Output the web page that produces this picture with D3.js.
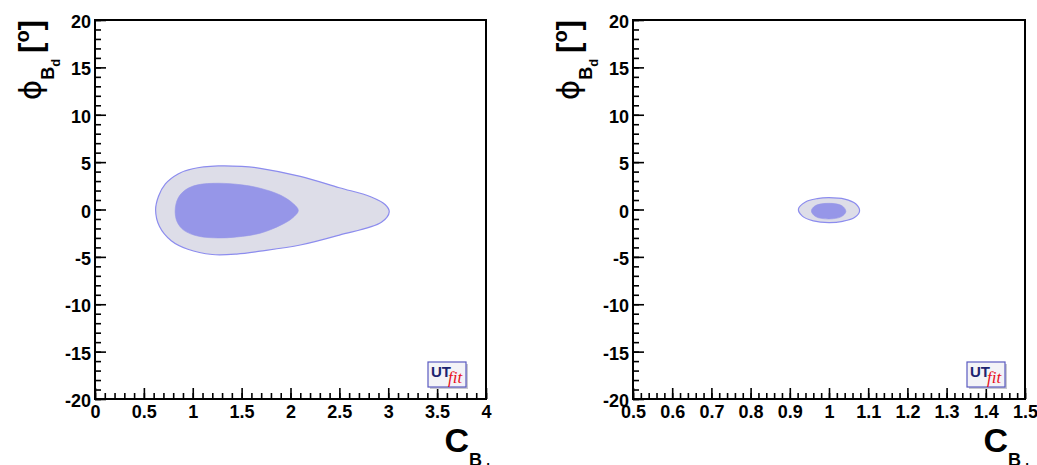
<!DOCTYPE html>
<html>
<head>
<meta charset="utf-8">
<script src="https://cdn.jsdelivr.net/npm/d3@7"></script>
<style>
	body { margin: 0; background: #fff; }
	svg { display: block; }
	.tick text { font-family: "Liberation Sans", Arial, sans-serif; font-weight: bold; font-size: 18px; fill: #000; }
</style>
</head>
<body>
<svg id="chart" width="1037" height="465"></svg>
<script>
// Contours (C_Bd, phi_Bd)
const leftOuter = [
	[0.62, -0.05], [0.65, 1.4], [0.72, 2.7], [0.85, 3.75], [1.0, 4.3], [1.26, 4.6], [1.5, 4.55],
	[1.69, 4.35], [2.1, 3.5], [2.5, 2.3], [2.82, 1.35], [2.97, 0.5], [3.01, -0.25], [2.93, -1.35],
	[2.5, -2.7], [2.1, -3.75], [1.69, -4.4], [1.45, -4.7], [1.2, -4.75], [0.95, -4.2], [0.78, -3.3],
	[0.66, -1.8],
];
const leftInner = [
	[0.82, -0.1], [0.85, 1.2], [0.93, 2.1], [1.05, 2.6], [1.26, 2.77], [1.5, 2.6], [1.69, 2.24],
	[1.9, 1.5], [2.03, 0.6], [2.08, -0.1], [2.02, -0.9], [1.9, -1.65], [1.69, -2.5], [1.45, -2.9],
	[1.26, -3.0], [1.05, -2.8], [0.91, -2.2], [0.84, -1.3],
];
const rightOuter = [
	[0.922, 0.05], [0.94, 0.8], [0.97, 1.15], [1.0, 1.25], [1.04, 1.1], [1.068, 0.6], [1.078, -0.15],
	[1.065, -0.85], [1.035, -1.25], [1.0, -1.39], [0.96, -1.2], [0.932, -0.7],
];
const rightInner = [
	[0.955, -0.15], [0.965, 0.4], [0.999, 0.65], [1.033, 0.4], [1.043, -0.2], [1.032, -0.75],
	[0.999, -1.0], [0.966, -0.75],
];

// Tick labels
const leftXTicks = ['0', '0.5', '1', '1.5', '2', '2.5', '3', '3.5', '4'];
const rightXTicks = ['0.5', '0.6', '0.7', '0.8', '0.9', '1', '1.1', '1.2', '1.3', '1.4', '1.5'];
const yTicks = ['-20', '-15', '-10', '-5', '0', '5', '10', '15', '20'];

const svg = d3.select('#chart');

function drawPanel(opts) {
	const { left, right, top, bottom } = opts;
	const g = svg.append('g');
	const xTickVals = opts.xTicks.map(Number);
	const yTickVals = yTicks.map(Number);

	const x = d3.scaleLinear().domain(d3.extent(xTickVals)).range([left, right]);
	const y = d3.scaleLinear().domain(d3.extent(yTickVals)).range([bottom, top]);

	// contours
	const line = d3.line()
		.x((d) => x(d[0]))
		.y((d) => y(d[1]))
		.curve(d3.curveCatmullRomClosed.alpha(0.5));

	g.append('path').attr('d', line(opts.outer))
		.attr('fill', '#dddde8').attr('stroke', '#8c8cee').attr('stroke-width', 1.2);
	g.append('path').attr('d', line(opts.inner))
		.attr('fill', '#9696e8').attr('stroke', '#9696e8').attr('stroke-width', 0.6);

	// minor ticks
	const xMinor = d3.range(x.domain()[0], x.domain()[1] + 1e-9, opts.xMinorStep);
	const yMinor = d3.range(-20, 20.001, 1);

	g.append('g').attr('transform', `translate(0,${bottom})`)
		.call(d3.axisBottom(x).tickValues(xMinor).tickSizeInner(-6).tickSizeOuter(0).tickFormat(''))
		.call((a) => a.select('.domain').remove());
	g.append('g').attr('transform', `translate(${left},0)`)
		.call(d3.axisLeft(y).tickValues(yMinor).tickSizeInner(-6).tickSizeOuter(0).tickFormat(''))
		.call((a) => a.select('.domain').remove());

	// major ticks + labels
	const xAxis = g.append('g').attr('transform', `translate(0,${bottom})`)
		.call(d3.axisBottom(x).tickValues(xTickVals).tickSizeInner(-11).tickSizeOuter(0)
			.tickPadding(6).tickFormat((d, i) => opts.xTicks[i]));
	xAxis.select('.domain').remove();

	const yAxis = g.append('g').attr('transform', `translate(${left},0)`)
		.call(d3.axisLeft(y).tickValues(yTickVals).tickSizeInner(-11).tickSizeOuter(0)
			.tickPadding(4).tickFormat((d, i) => yTicks[i]));
	yAxis.select('.domain').remove();
	yAxis.selectAll('.tick text').attr('dy', '0.42em');

	g.selectAll('.tick line').attr('stroke', '#000').attr('stroke-width', 1.6);

	// frame
	g.append('rect')
		.attr('x', left).attr('y', top)
		.attr('width', right - left).attr('height', bottom - top)
		.attr('fill', 'none').attr('stroke', '#000').attr('stroke-width', 2);

	// x title
	const xt = g.append('text')
		.attr('x', right + 4).attr('y', bottom + 53)
		.attr('text-anchor', 'end')
		.attr('font-family', '"Liberation Sans", Arial, sans-serif')
		.attr('font-weight', 'bold')
		.attr('font-size', 34);
	xt.append('tspan').text('C');
	xt.append('tspan').attr('font-size', 18).attr('dy', 14).text('B');
	xt.append('tspan').attr('font-size', 13).attr('dy', 6).text('d');

	// y title (rotated)
	const yt = g.append('text')
		.attr('transform', `translate(${left - 54},${top}) rotate(-90)`)
		.attr('text-anchor', 'end')
		.attr('font-family', '"Liberation Sans", Arial, sans-serif')
		.attr('font-weight', 'bold')
		.attr('font-size', 31);
	yt.append('tspan').attr('font-family', '"DejaVu Sans", sans-serif').attr('font-weight', 'normal')
		.attr('font-size', 31).text('\u03D5');
	yt.append('tspan').attr('font-size', 18).attr('dy', 13).text('B');
	yt.append('tspan').attr('font-size', 13).attr('dy', 6).text('d');
	yt.append('tspan').attr('dy', -19).attr('dx', 6).text('[');
	yt.append('tspan').attr('font-size', 20).attr('dy', -12).text('o');
	yt.append('tspan').attr('dy', 12).text(']');

	// UTfit logo
	const lw = 38, lh = 25;
	const lx = right - 20 - lw;
	const ly = bottom - 12 - lh;
	const logo = g.append('g').attr('transform', `translate(${lx},${ly})`);
	logo.append('rect').attr('x', 2).attr('y', 2).attr('width', lw).attr('height', lh).attr('fill', '#c8c8d0');
	logo.append('rect').attr('width', lw).attr('height', lh)
		.attr('fill', '#f3f3f7').attr('stroke', '#5a5ac0').attr('stroke-width', 1.2);
	logo.append('text').attr('x', 3).attr('y', 15)
		.attr('font-family', '"Liberation Sans", Arial, sans-serif').attr('font-weight', 'bold')
		.attr('font-size', 15).attr('fill', '#1c2470').text('UT');
	logo.append('text').attr('x', 20).attr('y', 21)
		.attr('font-family', '"Liberation Serif", serif').attr('font-style', 'italic')
		.attr('font-size', 17).attr('fill', '#e8101e').text('fit');
}

drawPanel({
	left: 95, right: 486, top: 20, bottom: 399,
	xTicks: leftXTicks, xMinorStep: 0.1,
	outer: leftOuter, inner: leftInner,
});

drawPanel({
	left: 633, right: 1025, top: 20, bottom: 399,
	xTicks: rightXTicks, xMinorStep: 0.02,
	outer: rightOuter, inner: rightInner,
});
</script>
</body>
</html>
